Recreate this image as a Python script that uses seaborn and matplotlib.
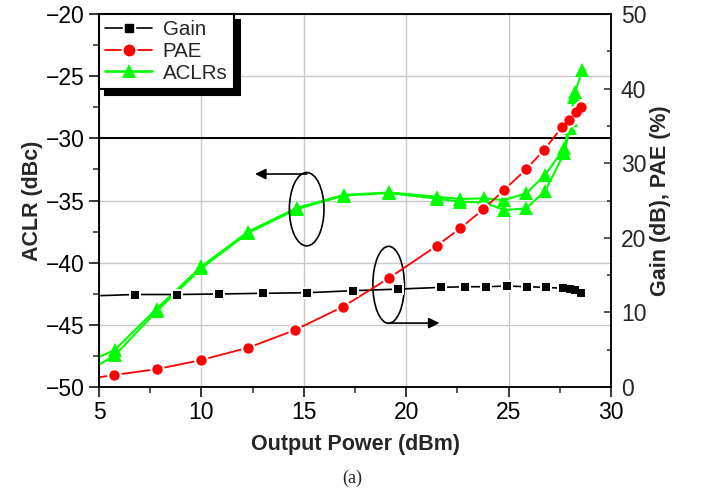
import matplotlib
matplotlib.use("Agg")
import matplotlib.pyplot as plt
import seaborn as sns
from matplotlib.patches import Ellipse
from matplotlib.lines import Line2D
from matplotlib.ticker import MultipleLocator

# ---- data -------------------------------------------------------------
# Gain (dB) vs output power (dBm); first point only anchors the line start
gain_x = [5.1, 6.76, 8.79, 10.86, 13.02, 15.14, 17.39, 19.58, 21.72, 22.87,
          23.90, 24.91, 25.91, 26.81, 27.67, 28.00, 28.24, 28.52]
gain_db = [12.25, 12.40, 12.40, 12.47, 12.56, 12.64, 12.91, 13.12, 13.36, 13.44,
           13.44, 13.54, 13.44, 13.36, 13.23, 13.10, 13.00, 12.56]

# PAE (%) vs output power (dBm)
pae_x = [5.0, 5.73, 7.82, 10.00, 12.29, 14.57, 16.91, 19.14, 21.50, 22.63,
         23.76, 24.78, 25.85, 26.73, 27.59, 27.95, 28.29, 28.52]
pae_pct = [1.30, 1.61, 2.39, 3.62, 5.27, 7.64, 10.76, 14.57, 18.95, 21.27,
           23.82, 26.41, 29.18, 31.77, 34.82, 35.79, 36.90, 37.49]

# ACLR (dBc), upper and lower adjacent channels
aclr_up_x = [5.0, 5.78, 7.82, 10.00, 12.29, 14.65, 16.96, 19.17, 21.52, 22.63,
             23.80, 24.78, 25.85, 26.78, 27.71, 28.02, 28.24, 28.60]
aclr_up = [-47.6, -47.0, -43.7, -40.3, -37.5, -35.6, -34.55, -34.35, -34.70, -34.88,
           -34.83, -34.96, -34.43, -32.95, -30.80, -28.50, -26.30, -24.50]
aclr_lo_x = [5.0, 5.78, 7.82, 10.00, 12.29, 14.65, 16.96, 19.17, 21.52, 22.63,
             23.80, 24.78, 25.85, 26.78, 27.71, 27.98, 28.20]
aclr_lo = [-48.2, -47.45, -43.9, -40.45, -37.6, -35.7, -34.6, -34.4, -34.85, -35.10,
           -35.15, -35.77, -35.63, -34.24, -31.20, -29.20, -26.70]

series_labels = ["Gain", "PAE", "ACLRs"]

GREEN = "#00ff00"
RED = "#ff0000"
BLACK = "#000000"

# ---- style ------------------------------------------------------------
sns.set_style("ticks")
plt.rcParams["font.family"] = ["Liberation Sans", "DejaVu Sans"]
plt.rcParams["axes.linewidth"] = 1.1

fig, ax = plt.subplots(figsize=(7.04, 4.93), dpi=100)
fig.subplots_adjust(left=0.1406, right=0.868, top=0.9716, bottom=0.215)
ax2 = ax.twinx()

# ---- ACLR curves (left axis) -----------------------------------------
for xs, ys in [(aclr_lo_x, aclr_lo), (aclr_up_x, aclr_up)]:
    sns.lineplot(x=xs, y=ys, ax=ax, color=GREEN, lw=1.5, marker="^",
                 markersize=9.5, markeredgewidth=0, markerfacecolor=GREEN,
                 markevery=slice(1, None), sort=False, estimator=None,
                 legend=False, zorder=3)

# ---- Gain and PAE (right axis), lines broken around the symbols -------
sns.lineplot(x=gain_x, y=gain_db, ax=ax2, color=BLACK, lw=1.2, sort=False,
             estimator=None, legend=False, zorder=2)
sns.scatterplot(x=gain_x[1:], y=gain_db[1:], ax=ax2, marker="s", s=85,
                color="white", linewidth=0, legend=False, zorder=3)
sns.scatterplot(x=gain_x[1:], y=gain_db[1:], ax=ax2, marker="s", s=36,
                color=BLACK, linewidth=0, legend=False, zorder=4)

sns.lineplot(x=pae_x, y=pae_pct, ax=ax2, color=RED, lw=1.3, sort=False,
             estimator=None, legend=False, zorder=2)
sns.scatterplot(x=pae_x[1:], y=pae_pct[1:], ax=ax2, marker="o", s=110,
                color="white", linewidth=0, legend=False, zorder=3)
sns.scatterplot(x=pae_x[1:], y=pae_pct[1:], ax=ax2, marker="o", s=56,
                color=RED, linewidth=0, legend=False, zorder=4)

# ---- axes, ticks, grid -------------------------------------------------
ax.set_xlim(5, 30)
ax.set_ylim(-50, -20)
ax2.set_ylim(0, 50)
ax.xaxis.set_major_locator(MultipleLocator(5))
ax.xaxis.set_minor_locator(MultipleLocator(2.5))
ax.yaxis.set_major_locator(MultipleLocator(5))
ax.yaxis.set_minor_locator(MultipleLocator(2.5))
ax2.yaxis.set_major_locator(MultipleLocator(10))
ax2.yaxis.set_minor_locator(MultipleLocator(5))

ax.grid(True, which="major", color="#c8c8c8", lw=1.0)
ax2.grid(False)
ax.axhline(-30, color=BLACK, lw=1.4, zorder=1.5)

ax.tick_params(axis="both", which="major", direction="out", length=7,
               width=1.1, labelsize=16.5, colors=BLACK, pad=3)
ax.tick_params(axis="both", which="minor", direction="out", length=4, width=1.1)
ax.tick_params(top=False, right=False, which="both")
ax2.tick_params(axis="y", which="major", direction="in", length=5, width=1.1,
                labelsize=16.5, pad=7)
ax2.tick_params(axis="y", which="minor", direction="in", length=3, width=1.1)

for a in (ax, ax2):
    for sp in a.spines.values():
        sp.set_color(BLACK)
        sp.set_linewidth(1.1)

ax.set_xlabel("Output Power (dBm)", fontsize=15.5, fontweight="bold", labelpad=7)
ax.set_ylabel("ACLR (dBc)", fontsize=15.5, fontweight="bold", labelpad=2)
ax2.set_ylabel("Gain (dB), PAE (%)", fontsize=15.5, fontweight="bold", labelpad=3)

# ---- callouts: ellipse + arrow pointing to the axis each group uses ----
ax.add_patch(Ellipse((15.14, -35.7), 1.69, 5.9, fill=False, ec=BLACK, lw=1.2, zorder=5))
ax.annotate("", xy=(12.62, -32.87), xytext=(15.14, -32.87),
            arrowprops=dict(arrowstyle="-|>", color=BLACK, lw=1.2,
                            mutation_scale=16, shrinkA=0, shrinkB=0), zorder=5)
ax.add_patch(Ellipse((19.14, -41.78), 1.54, 6.19, fill=False, ec=BLACK, lw=1.2, zorder=5))
ax.annotate("", xy=(21.62, -44.86), xytext=(19.14, -44.86),
            arrowprops=dict(arrowstyle="-|>", color=BLACK, lw=1.2,
                            mutation_scale=16, shrinkA=0, shrinkB=0), zorder=5)

# ---- legend --------------------------------------------------------------
h_gain = (Line2D([], [], color=BLACK, lw=1.2),
          Line2D([], [], ls="", marker="s", ms=9.2, color="white"),
          Line2D([], [], ls="", marker="s", ms=6, color=BLACK))
h_pae = (Line2D([], [], color=RED, lw=1.3),
         Line2D([], [], ls="", marker="o", ms=10.5, color="white"),
         Line2D([], [], ls="", marker="o", ms=7.5, color=RED))
h_aclr = Line2D([], [], color=GREEN, lw=1.9, marker="^", ms=9.5, mew=0)

leg = ax2.legend([h_gain, h_pae, h_aclr], series_labels, loc="upper left",
                 bbox_to_anchor=(0, 1), borderaxespad=0, numpoints=1,
                 fontsize=14.8, handlelength=2.3, handletextpad=0.5,
                 borderpad=0.3, labelspacing=0.13, fancybox=False,
                 frameon=True, framealpha=1, edgecolor=BLACK,
                 shadow={"ox": 4.5, "oy": -4.5, "facecolor": BLACK,
                         "edgecolor": BLACK, "alpha": 1})
leg.get_frame().set_linewidth(1.5)
leg.set_zorder(10)

fig.text(0.501, 0.030, "(a)", family=["Liberation Serif", "DejaVu Serif"],
         fontsize=13, ha="center", va="center")

fig.savefig("out.png", dpi=100)
